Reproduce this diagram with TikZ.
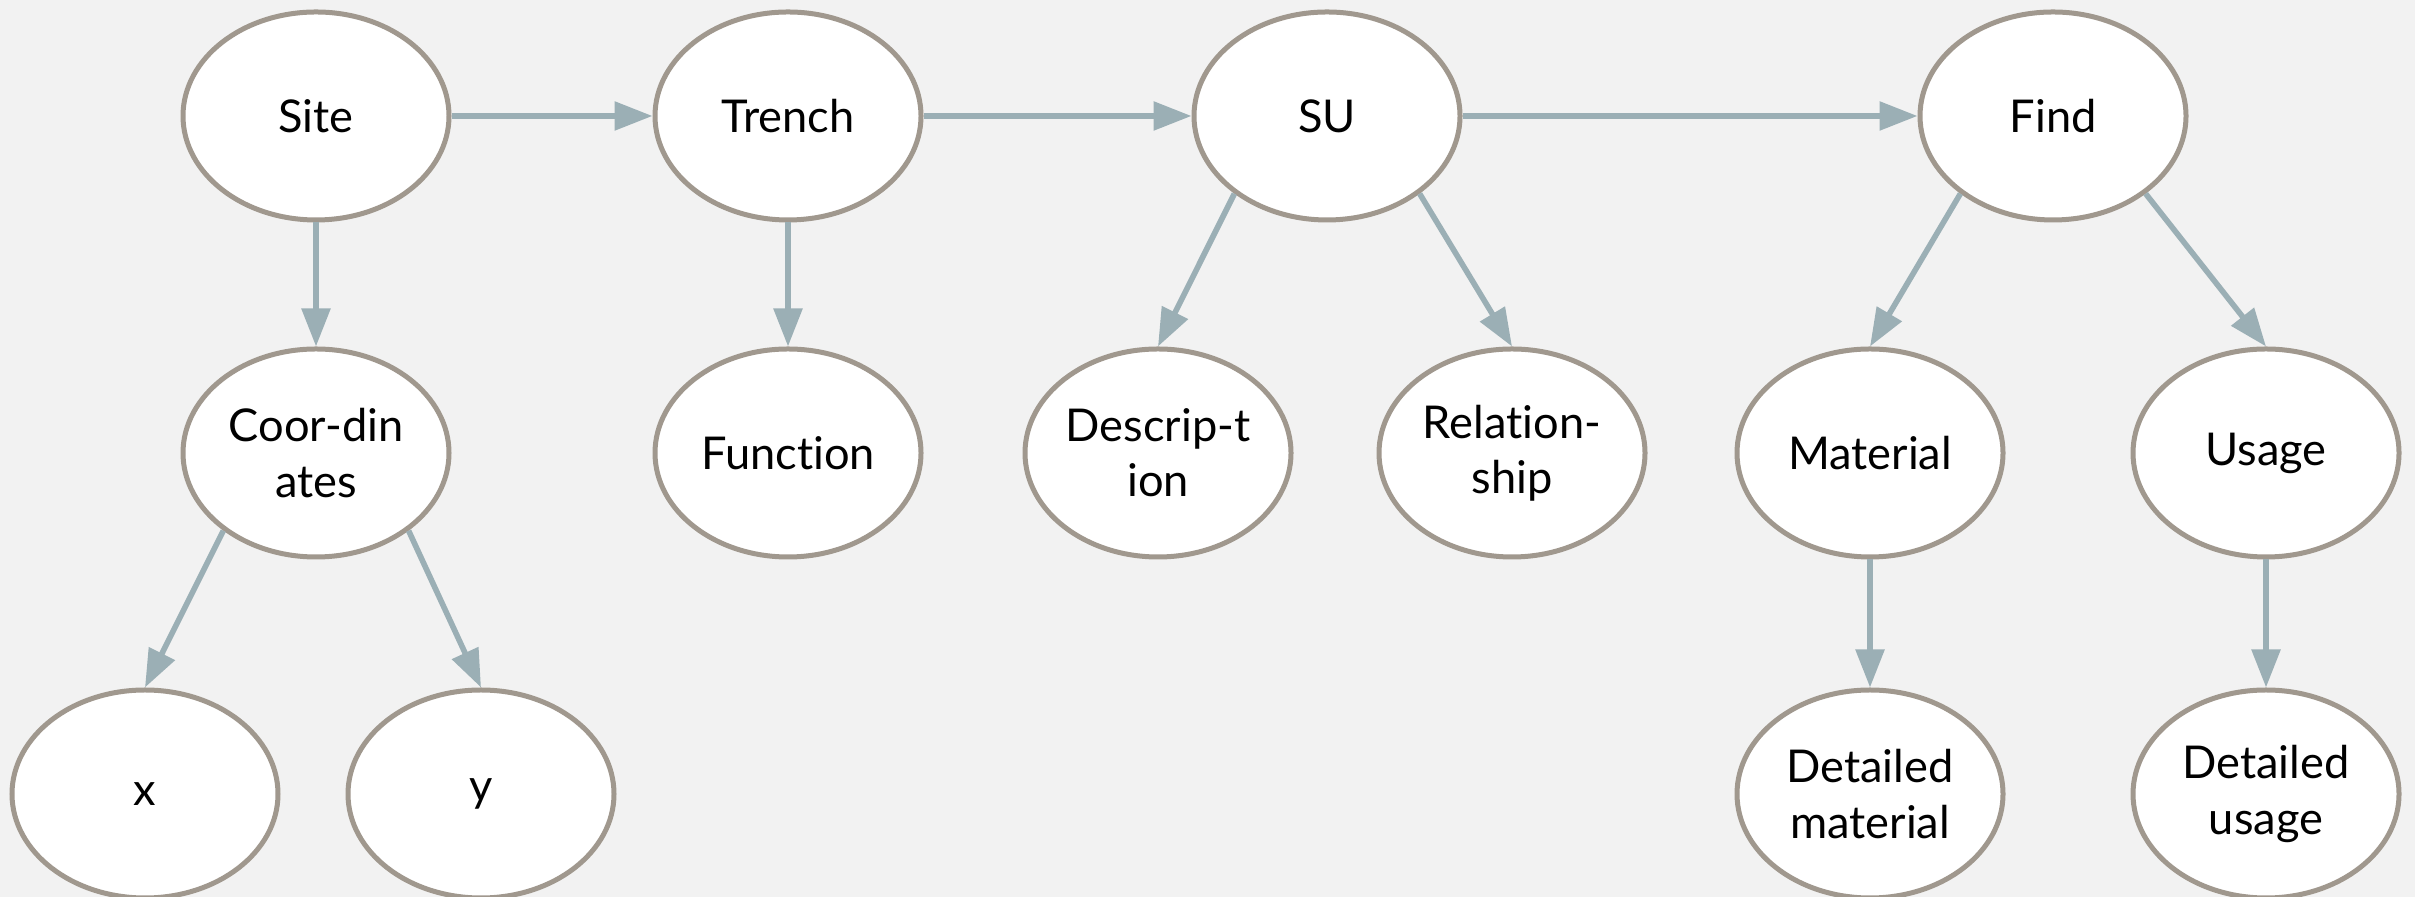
\documentclass[tikz,border=0pt]{standalone}
\usepackage{fontspec}
\setmainfont{Lato}[Ligatures=CommonOff]
\usepackage{tikz}
\usetikzlibrary{arrows.meta,shapes,positioning}
\definecolor{bgcol}{HTML}{F2F2F2}
\definecolor{rimcol}{HTML}{A0988E}
\definecolor{linkcol}{HTML}{9BAFB5}
\tikzset{
	basic/.style = {draw=rimcol, line width=1.25pt, fill=white, ellipse, inner sep=0pt},
	entity/.style = {basic, minimum width=66.5pt, minimum height=52pt, align=center, font=\fontsize{11.3}{13.8}\selectfont},
	link/.style = {->, draw=linkcol, line width=1.4pt}
}

\begin{document}
\begin{tikzpicture}[x=0.25pt, y=0.25pt, node distance=31pt,
			>={Triangle[length=9.5pt,width=7pt]}]

	% background, fixes the page size
	\fill[bgcol] (0,0) rectangle (2415,897);
	\useasboundingbox (0,0) rectangle (2415,897);

	% top row
	\node[entity] (site) at (316,781) {Site};
	\node[entity] (trench) at (788,781) {Trench};
	\node[entity] (su) at (1327,781) {SU};
	\node[entity] (find) at (2053,781) {Find};

	% second row, relatively positioned
	\node[entity, below=of site] (coord) {Coor-din\\ates};
	\node[entity, below=of trench] (func) {Function};
	\node[entity, below=of su, xshift=-42.25pt] (descr) {Descrip-t\\ion};
	\node[entity, below=of su, xshift=46.25pt] (rel) {Relation-\\ship};
	\node[entity, below=of find, xshift=-45.75pt] (mat) {Material};
	\node[entity, below=of find, xshift=53.25pt] (usage) {Usage};

	% third row
	\node[entity, below=32pt of coord, xshift=-42.75pt] (xval) {x};
	\node[entity, below=32pt of coord, xshift=41.25pt] (yval) {y};
	\node[entity, below=32pt of mat] (dmat) {Detailed\\material};
	\node[entity, below=32pt of usage] (dusage) {Detailed\\usage};

	% straight links
	\foreach \src/\dst in {site/trench, trench/su, su/find, site/coord, trench/func, mat/dmat, usage/dusage}
	\draw[link] (\src) -- (\dst);

	% links to the left child
	\foreach \src/\dst in {coord/xval, su/descr, find/mat}
	\draw[link] (\src.220) -- (\dst.north);

	% links to the right child
	\foreach \src/\dst in {coord/yval, su/rel, find/usage}
	\draw[link] (\src.320) -- (\dst.north);
\end{tikzpicture}
\end{document}
